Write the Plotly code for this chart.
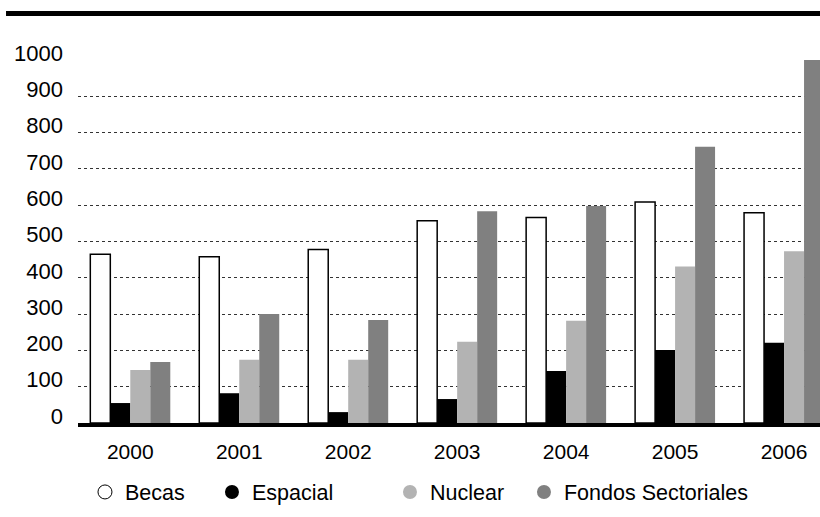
import plotly.graph_objects as go

years = ["2000", "2001", "2002", "2003", "2004", "2005", "2006"]
becas = [465, 458, 478, 557, 566, 609, 579]
espacial = [55, 82, 30, 66, 143, 201, 221]
nuclear = [146, 174, 174, 224, 282, 431, 473]
fondos = [168, 300, 284, 583, 598, 761, 1000]
y_ticks = [0, 100, 200, 300, 400, 500, 600, 700, 800, 900, 1000]

series = [
    ("Becas", becas, "#ffffff", dict(color="#000000", width=1.5), 82),
    ("Espacial", espacial, "#000000", dict(width=0), 133),
    ("Nuclear", nuclear, "#b3b3b3", dict(width=0), 89),
    ("Fondos Sectoriales", fondos, "#808080", dict(width=0), None),
]

FONT = "Liberation Sans, Arial, Helvetica, sans-serif"

fig = go.Figure()
for name, vals, color, line, lw in series:
    fig.add_trace(go.Bar(x=years, y=vals, name=name, marker=dict(color=color, line=line),
                         showlegend=False))
# legend entries with circular symbols
for name, vals, color, line, lw in series:
    mline = dict(color="#000000", width=1) if color == "#ffffff" else dict(width=0)
    kw = dict(legendwidth=lw) if lw else {}
    fig.add_trace(go.Scatter(x=[None], y=[None], mode="markers", name=name,
                             marker=dict(symbol="circle", size=14, color=color, line=mline), **kw))

fig.update_layout(
    width=820, height=517,
    margin=dict(l=78, r=0, t=60, b=94),
    paper_bgcolor="white", plot_bgcolor="white",
    barmode="group", bargap=0.266, bargroupgap=0,
    font=dict(family=FONT, color="#000000"),
    legend=dict(orientation="h", x=0.0094, xanchor="left", y=-0.19, yanchor="middle",
                font=dict(size=21.5, family=FONT), itemwidth=30, traceorder="normal"),
    xaxis=dict(type="category", range=[-0.48, 6.33], showgrid=False, zeroline=False,
               showline=True, linecolor="#000000", linewidth=4, ticks="",
               tickfont=dict(size=21, family=FONT), ticklabelstandoff=7, automargin=False),
    yaxis=dict(range=[0, 1000], tickvals=y_ticks, showgrid=True, gridcolor="#333333",
               griddash="dot", gridwidth=1, zeroline=False, showline=False, ticks="",
               tickfont=dict(size=22, family=FONT), ticklabelstandoff=14, ticklabelshift=-7,
               automargin=False),
    shapes=[dict(type="rect", xref="paper", yref="paper", x0=-0.097, x1=1.01,
                 y0=1.121, y1=1.135, fillcolor="#000000", line=dict(width=0), layer="above")],
)

fig.write_html("out.html", config={"displayModeBar": False},
               post_script="document.body.style.margin='0';document.body.style.padding='0';")
